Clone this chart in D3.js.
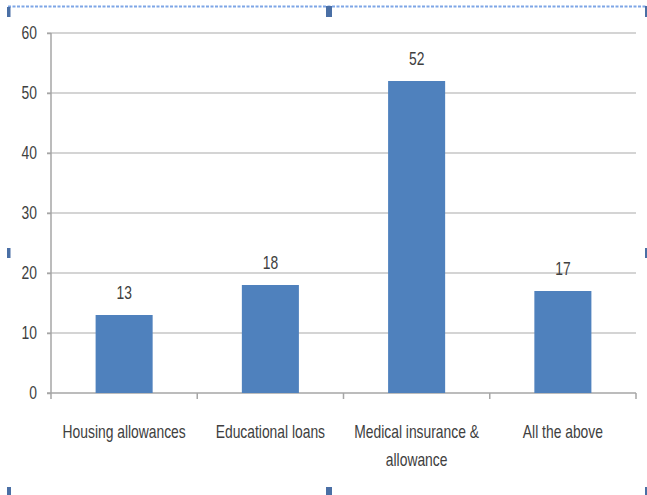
<!DOCTYPE html>
<html><head><meta charset="utf-8">
<script src="https://cdn.jsdelivr.net/npm/d3@7"></script>
<style>
html,body{margin:0;padding:0;background:#fff;overflow:hidden}
svg{display:block}
text{font-family:"Liberation Sans",Arial,sans-serif;fill:#404040}
</style></head>
<body>
<script>
const categories = ["Housing allowances", "Educational loans", "Medical insurance & allowance", "All the above"];
const categoryLines = [["Housing allowances"], ["Educational loans"], ["Medical insurance &", "allowance"], ["All the above"]];
const values = [13, 18, 52, 17];
const yTicks = [0, 10, 20, 30, 40, 50, 60];

(function(){
const W = 647, H = 495;
const SX = 0.77;
const svg = d3.select("body").append("svg").attr("width", W).attr("height", H);

const pL = 51, pR = 636, pT = 33, pB = 393;
const x = d3.scaleBand().domain(categories).range([pL, pR]).paddingInner(0.61).paddingOuter(0.305);
const y = d3.scaleLinear().domain([0, 60]).range([pB, pT]);

// selection frame (dotted line + handles)
svg.append("line").attr("x1", 8).attr("x2", W).attr("y1", 6.5).attr("y2", 6.5)
  .attr("stroke", "#7ea6e6").attr("stroke-width", 2).attr("stroke-dasharray", "3,1.5");
const handles = [[7,7,3.5,10],[326,6,6,11],[645,6,2,11],[7,248,3.5,10],[645,248,2,10],[7,487,4,8],[326,487,6,8],[645,487,2,8]];
svg.selectAll("rect.h").data(handles).enter().append("rect").attr("class","h")
  .attr("x", d=>d[0]).attr("y", d=>d[1]).attr("width", d=>d[2]).attr("height", d=>d[3]).attr("fill", "#4a6fa5");

// gridlines
svg.append("g").selectAll("line").data(yTicks.filter(t=>t>0)).enter().append("line")
  .attr("x1", pL - 4).attr("x2", pR).attr("y1", d=>y(d)).attr("y2", d=>y(d))
  .attr("stroke", "#d4d4d4").attr("stroke-width", 2);

// y axis
const ya = svg.append("g").attr("transform", `translate(${pL},0)`)
  .call(d3.axisLeft(y).tickValues(yTicks).tickSize(4).tickPadding(10));
ya.attr("font-family", null).attr("font-size", null);
ya.select(".domain").attr("stroke", "#a6a6a6").attr("stroke-width", 1.5).attr("d", `M0,${pT}V${pB}`);
ya.selectAll(".tick line").attr("stroke", "#a6a6a6").attr("stroke-width", 1.5);
ya.selectAll(".tick text").attr("font-size", 18).style("fill", "#404040")
  .attr("x", -14 / SX).attr("transform", `scale(${SX},1)`);

// x axis
const xa = svg.append("g").attr("transform", `translate(0,${pB})`)
  .call(d3.axisBottom(x).tickSize(0).tickFormat(""));
xa.select(".domain").attr("stroke", "#a6a6a6").attr("stroke-width", 1.5).attr("d", `M${pL-4},0H${pR}`);
const bounds = [pL].concat(categories.map(c => x(c) + x.bandwidth()/2 + x.step()/2));
xa.append("g").selectAll("line").data(bounds).enter().append("line")
  .attr("x1", d=>d).attr("x2", d=>d).attr("y1", 0).attr("y2", 6).attr("stroke", "#a6a6a6").attr("stroke-width", 1.5);

// category labels
const cl = svg.append("g").selectAll("text").data(categories).enter().append("text")
  .attr("transform", d => `translate(${x(d) + x.bandwidth()/2},438) scale(${SX},1)`)
  .attr("text-anchor", "middle").attr("font-size", 18);
cl.each(function(d, i){
  const t = d3.select(this);
  categoryLines[i].forEach((ln, j) => t.append("tspan").attr("x", 0).attr("dy", j ? 28 : 0).text(ln));
});

// bars
svg.append("g").selectAll("rect").data(values).enter().append("rect")
  .attr("x", (d,i) => x(categories[i])).attr("width", x.bandwidth())
  .attr("y", d => y(d)).attr("height", d => y(0) - y(d)).attr("fill", "#4f81bd");

// value labels
svg.append("g").selectAll("text").data(values).enter().append("text")
  .attr("transform", (d,i) => `translate(${x(categories[i]) + x.bandwidth()/2},${y(d) - 16}) scale(${SX},1)`)
  .attr("text-anchor", "middle").attr("font-size", 18).text(d => d);
})();
</script>
</body></html>
